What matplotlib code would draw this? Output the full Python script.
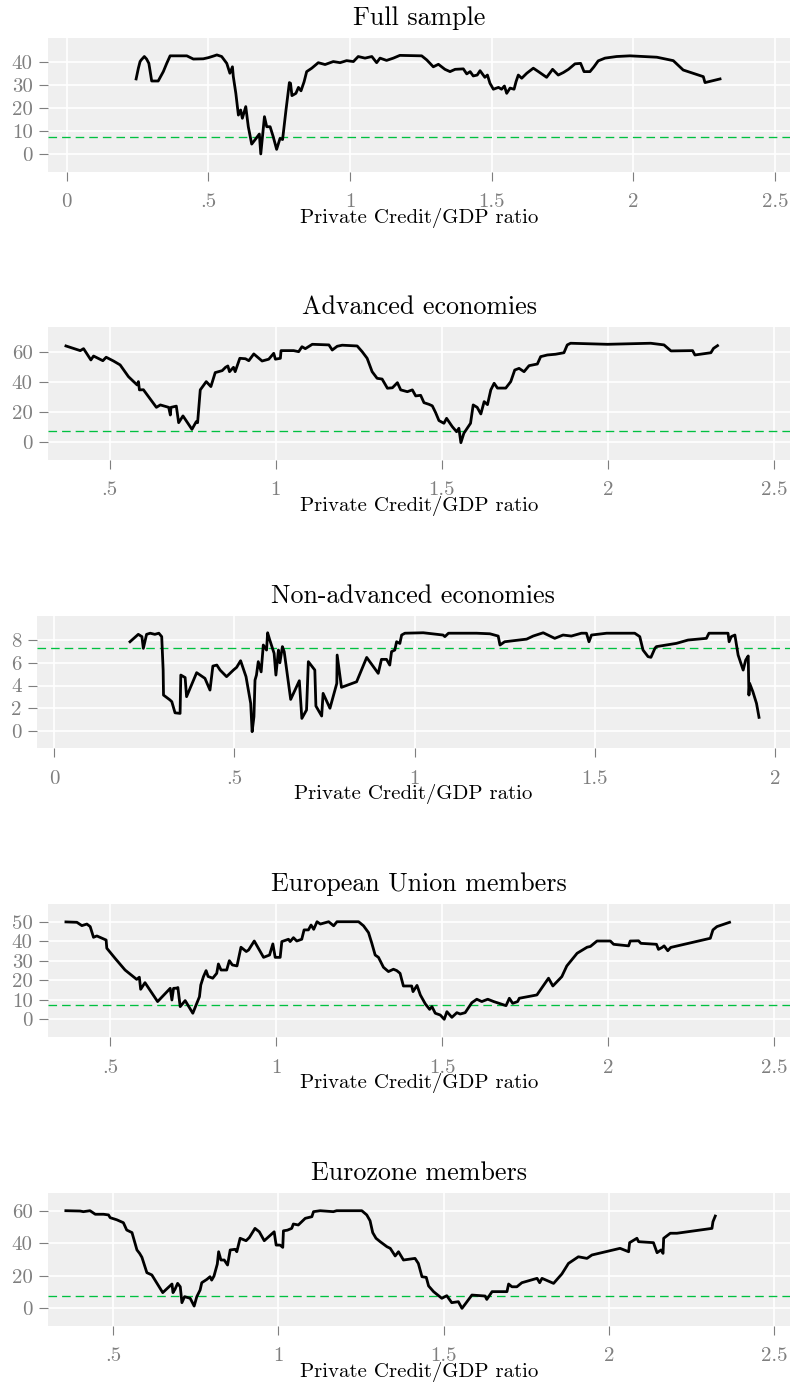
import matplotlib
matplotlib.use("Agg")
import matplotlib.pyplot as plt

plt.rcParams['font.family'] = ['cmr10', 'DejaVu Serif']
plt.rcParams['axes.unicode_minus'] = False

# threshold shown as dashed green line
threshold = 7.3

titles = ["Full sample", "Advanced economies", "Non-advanced economies",
          "European Union members", "Eurozone members"]

full_x = [0.245, 0.253, 0.259, 0.263, 0.274, 0.282, 0.290, 0.300, 0.323, 0.341, 0.353, 0.365,
          0.424, 0.447, 0.482, 0.500, 0.518, 0.530, 0.547, 0.565, 0.576, 0.585, 0.588, 0.597,
          0.606, 0.614, 0.620, 0.632, 0.641, 0.653, 0.666, 0.680, 0.685, 0.698, 0.706, 0.718,
          0.729, 0.741, 0.753, 0.762, 0.774, 0.786, 0.790, 0.795, 0.809, 0.818, 0.827, 0.838,
          0.847, 0.865, 0.888, 0.912, 0.941, 0.965, 0.988, 1.012, 1.029, 1.053, 1.077, 1.094,
          1.106, 1.129, 1.153, 1.176, 1.253, 1.271, 1.294, 1.312, 1.335, 1.353, 1.371, 1.400,
          1.412, 1.424, 1.435, 1.449, 1.459, 1.476, 1.485, 1.494, 1.506, 1.524, 1.535, 1.545,
          1.553, 1.565, 1.579, 1.586, 1.594, 1.606, 1.624, 1.647, 1.665, 1.694, 1.715, 1.735,
          1.753, 1.771, 1.794, 1.814, 1.826, 1.847, 1.861, 1.876, 1.900, 1.941, 1.988, 2.083,
          2.141, 2.176, 2.247, 2.253, 2.306]
full_y = [32.7, 37.4, 40.3, 41.0, 42.5, 41.4, 39.5, 31.8, 31.8, 35.9, 39.5, 42.8,
          42.8, 41.4, 41.5, 42.0, 42.7, 43.2, 42.5, 39.5, 35.2, 38.0, 33.8, 26.4,
          16.9, 19.1, 15.5, 20.6, 11.8, 4.2, 6.3, 8.6, -0.1, 16.2, 11.8, 11.8,
          7.4, 1.9, 6.7, 6.2, 19.1, 31.1, 30.8, 25.4, 26.4, 29.0, 27.5, 31.5,
          35.9, 37.4, 39.8, 39.0, 40.3, 39.8, 40.7, 40.3, 42.5, 41.8, 42.5, 39.8,
          41.8, 40.8, 41.8, 43.0, 42.8, 41.0, 38.0, 39.1, 36.9, 35.9, 36.9, 37.1,
          34.9, 35.9, 34.0, 34.4, 36.3, 33.4, 34.4, 30.8, 28.2, 29.0, 28.2, 29.6,
          26.4, 28.7, 28.2, 31.5, 34.4, 33.0, 35.2, 37.4, 35.9, 33.4, 36.9, 34.4,
          35.5, 36.9, 39.3, 39.5, 35.9, 35.9, 38.0, 40.6, 41.8, 42.5, 42.8, 42.2,
          40.7, 36.6, 33.7, 31.1, 32.7]

adv_x = [0.369, 0.412, 0.422, 0.444, 0.452, 0.480, 0.490, 0.512, 0.532, 0.557, 0.583, 0.587,
         0.590, 0.602, 0.641, 0.653, 0.678, 0.683, 0.685, 0.701, 0.708, 0.721, 0.748, 0.761,
         0.765, 0.773, 0.791, 0.805, 0.818, 0.839, 0.849, 0.856, 0.861, 0.873, 0.878, 0.892,
         0.909, 0.919, 0.934, 0.959, 0.979, 0.994, 0.999, 1.014, 1.016, 1.054, 1.069, 1.079,
         1.089, 1.110, 1.160, 1.170, 1.185, 1.200, 1.245, 1.260, 1.275, 1.290, 1.305, 1.320,
         1.336, 1.351, 1.366, 1.376, 1.396, 1.411, 1.421, 1.436, 1.446, 1.461, 1.471, 1.481,
         1.491, 1.506, 1.514, 1.531, 1.544, 1.551, 1.557, 1.566, 1.586, 1.594, 1.606, 1.617,
         1.627, 1.637, 1.647, 1.657, 1.667, 1.692, 1.707, 1.719, 1.732, 1.747, 1.762, 1.787,
         1.797, 1.817, 1.842, 1.867, 1.877, 1.887, 1.998, 2.128, 2.168, 2.189, 2.254, 2.261,
         2.309, 2.317, 2.329]
adv_y = [64.0, 60.9, 62.2, 54.7, 57.3, 54.2, 56.5, 54.0, 51.4, 43.6, 38.1, 40.3,
         34.8, 34.9, 23.2, 24.8, 23.2, 18.1, 23.2, 24.0, 13.0, 17.5, 8.6, 13.7,
         13.0, 34.8, 40.3, 37.0, 46.3, 47.6, 49.8, 50.7, 46.9, 49.8, 46.9, 55.8,
         55.5, 54.2, 58.7, 54.0, 55.2, 59.1, 55.2, 55.8, 60.9, 60.9, 60.2, 63.5,
         62.2, 65.1, 64.7, 61.3, 63.8, 64.5, 64.0, 60.2, 55.8, 46.9, 42.5, 42.0,
         35.9, 36.2, 39.6, 34.8, 33.6, 34.8, 30.8, 31.2, 26.3, 25.2, 24.2, 19.7,
         14.4, 12.6, 15.9, 10.4, 7.0, 9.3, -0.3, 6.0, 12.6, 24.8, 23.2, 18.8,
         27.0, 25.0, 34.8, 39.2, 36.0, 36.0, 40.3, 48.0, 49.1, 46.9, 50.9, 52.0,
         56.9, 58.0, 58.5, 59.5, 64.7, 65.8, 65.1, 65.8, 64.7, 60.7, 60.9, 58.0,
         59.5, 62.4, 64.2]

nonadv_x = [0.210, 0.233, 0.243, 0.247, 0.256, 0.266, 0.279, 0.290, 0.298, 0.302, 0.303, 0.321,
            0.326, 0.335, 0.349, 0.351, 0.363, 0.367, 0.395, 0.418, 0.432, 0.440, 0.451, 0.460,
            0.478, 0.497, 0.506, 0.517, 0.532, 0.545, 0.549, 0.554, 0.557, 0.561, 0.566, 0.574,
            0.580, 0.589, 0.592, 0.598, 0.610, 0.615, 0.622, 0.626, 0.633, 0.638, 0.656, 0.680,
            0.687, 0.700, 0.705, 0.723, 0.726, 0.742, 0.746, 0.765, 0.784, 0.785, 0.797, 0.839,
            0.867, 0.899, 0.908, 0.922, 0.931, 0.936, 0.945, 0.950, 0.959, 0.964, 0.973, 1.024,
            1.079, 1.084, 1.094, 1.172, 1.209, 1.232, 1.237, 1.250, 1.311, 1.329, 1.357, 1.389,
            1.412, 1.435, 1.463, 1.477, 1.484, 1.491, 1.533, 1.611, 1.625, 1.634, 1.648, 1.656,
            1.667, 1.671, 1.727, 1.759, 1.810, 1.817, 1.870, 1.873, 1.879, 1.889, 1.898, 1.912,
            1.919, 1.926, 1.928, 1.930, 1.939, 1.949, 1.956]
nonadv_y = [7.85, 8.5, 8.3, 7.27, 8.5, 8.6, 8.5, 8.6, 8.3, 5.36, 3.16, 2.73,
            2.58, 1.6, 1.55, 4.92, 4.7, 3.02, 5.13, 4.63, 3.6, 5.71, 5.8, 5.36,
            4.78, 5.36, 5.6, 6.18, 4.78, 2.43, -0.06, 1.26, 4.48, 4.92, 6.1, 5.2,
            7.56, 7.12, 8.64, 8.0, 6.83, 4.92, 7.12, 6.0, 7.42, 6.98, 2.78, 4.42,
            1.11, 1.85, 6.1, 5.36, 2.2, 1.32, 3.31, 2.0, 4.19, 6.68, 3.84, 4.33,
            6.47, 5.07, 6.3, 6.3, 5.8, 6.98, 7.12, 7.85, 7.7, 8.44, 8.6, 8.64,
            8.44, 8.3, 8.6, 8.6, 8.55, 8.35, 7.56, 7.85, 8.08, 8.35, 8.64, 8.15,
            8.44, 8.35, 8.6, 8.6, 7.85, 8.44, 8.6, 8.6, 8.3, 7.12, 6.54, 6.48,
            7.27, 7.42, 7.71, 8.0, 8.15, 8.6, 8.6, 7.85, 8.3, 8.44, 6.68, 5.36,
            6.24, 6.6, 3.16, 4.19, 3.45, 2.43, 1.2]

eu_x = [0.367, 0.400, 0.415, 0.430, 0.440, 0.450, 0.460, 0.488, 0.490, 0.515, 0.545, 0.580,
        0.588, 0.592, 0.605, 0.643, 0.681, 0.686, 0.691, 0.700, 0.704, 0.711, 0.726, 0.749,
        0.761, 0.769, 0.773, 0.781, 0.789, 0.795, 0.809, 0.821, 0.826, 0.834, 0.851, 0.859,
        0.868, 0.882, 0.894, 0.910, 0.917, 0.934, 0.962, 0.980, 0.990, 0.997, 1.012, 1.017,
        1.037, 1.042, 1.052, 1.062, 1.077, 1.084, 1.097, 1.105, 1.113, 1.123, 1.133, 1.158,
        1.173, 1.183, 1.248, 1.263, 1.278, 1.288, 1.298, 1.308, 1.323, 1.338, 1.353, 1.363,
        1.373, 1.383, 1.408, 1.412, 1.424, 1.434, 1.449, 1.462, 1.469, 1.479, 1.494, 1.506,
        1.514, 1.529, 1.544, 1.554, 1.569, 1.589, 1.604, 1.619, 1.637, 1.655, 1.692, 1.702,
        1.712, 1.727, 1.732, 1.785, 1.820, 1.833, 1.860, 1.875, 1.906, 1.936, 1.946, 1.966,
        2.006, 2.016, 2.061, 2.066, 2.091, 2.098, 2.145, 2.151, 2.162, 2.168, 2.179, 2.188,
        2.307, 2.315, 2.327, 2.365]
eu_y = [50.0, 49.8, 48.1, 48.9, 47.6, 42.1, 42.8, 40.7, 36.5, 31.3, 25.3, 20.5,
        21.6, 15.4, 18.8, 9.1, 15.9, 9.9, 15.9, 16.0, 16.3, 6.5, 9.6, 3.1,
        8.2, 11.6, 17.6, 21.9, 25.0, 22.0, 21.1, 23.6, 28.4, 25.3, 25.3, 30.1,
        27.9, 27.4, 37.0, 34.8, 35.6, 40.2, 31.8, 33.0, 38.7, 31.8, 31.8, 39.9,
        41.1, 39.9, 41.9, 40.2, 41.1, 45.9, 45.9, 48.4, 46.2, 50.1, 48.9, 50.1,
        48.0, 50.1, 50.1, 48.0, 44.5, 39.0, 33.0, 31.8, 26.7, 24.5, 25.7, 25.0,
        23.6, 17.1, 17.1, 14.2, 17.4, 12.5, 7.9, 5.1, 6.5, 3.1, 2.2, 0.0,
        3.9, 1.0, 3.4, 2.7, 3.4, 8.5, 10.3, 9.1, 10.3, 9.1, 7.0, 10.8,
        8.2, 9.1, 10.8, 12.5, 21.1, 17.1, 21.9, 27.4, 33.9, 37.0, 37.4, 40.2,
        40.2, 38.5, 37.7, 40.2, 40.3, 39.0, 38.5, 35.9, 36.9, 37.7, 35.2, 36.9,
        41.6, 45.9, 47.6, 49.8]

ez_x = [0.357, 0.400, 0.410, 0.430, 0.446, 0.471, 0.486, 0.491, 0.511, 0.531, 0.541, 0.557,
        0.572, 0.580, 0.587, 0.602, 0.617, 0.650, 0.678, 0.681, 0.687, 0.695, 0.703, 0.708,
        0.716, 0.733, 0.745, 0.753, 0.763, 0.768, 0.783, 0.793, 0.798, 0.805, 0.815, 0.819,
        0.826, 0.836, 0.846, 0.854, 0.869, 0.874, 0.884, 0.902, 0.912, 0.929, 0.942, 0.957,
        0.987, 0.993, 1.005, 1.013, 1.015, 1.027, 1.040, 1.045, 1.060, 1.081, 1.101, 1.106,
        1.126, 1.166, 1.176, 1.252, 1.267, 1.277, 1.285, 1.295, 1.307, 1.328, 1.338, 1.353,
        1.363, 1.378, 1.413, 1.423, 1.434, 1.447, 1.454, 1.469, 1.494, 1.509, 1.524, 1.544,
        1.555, 1.565, 1.585, 1.625, 1.630, 1.646, 1.691, 1.696, 1.706, 1.721, 1.736, 1.782,
        1.790, 1.797, 1.832, 1.857, 1.877, 1.907, 1.933, 1.948, 2.033, 2.059, 2.062, 2.084,
        2.089, 2.134, 2.145, 2.157, 2.163, 2.165, 2.185, 2.205, 2.311, 2.314, 2.321]
ez_y = [60.0, 59.8, 59.4, 60.0, 57.8, 57.8, 57.4, 55.7, 54.4, 52.6, 48.1, 46.5,
        35.8, 33.7, 31.3, 21.8, 20.4, 9.5, 14.8, 9.5, 11.5, 15.2, 13.1, 3.3,
        7.0, 6.0, 1.2, 7.0, 11.1, 15.6, 17.6, 19.3, 17.2, 19.7, 27.1, 34.7,
        29.6, 29.6, 26.5, 35.8, 36.2, 34.7, 43.0, 41.5, 43.5, 49.1, 47.0, 41.5,
        47.0, 38.8, 38.8, 37.4, 47.6, 48.0, 49.1, 51.8, 51.2, 55.3, 56.3, 59.4,
        60.0, 59.4, 60.0, 60.0, 57.4, 53.8, 46.5, 43.0, 41.0, 37.8, 36.8, 32.1,
        34.7, 29.6, 30.6, 27.5, 19.3, 18.9, 13.6, 10.1, 6.0, 7.6, 3.3, 3.9,
        -0.2, 2.5, 8.0, 7.4, 5.3, 10.1, 10.1, 14.8, 13.1, 13.1, 15.6, 18.3,
        15.6, 18.3, 15.2, 21.0, 27.5, 31.6, 30.6, 32.7, 36.8, 34.7, 40.3, 43.0,
        40.9, 40.3, 34.1, 35.8, 33.7, 43.0, 46.1, 46.1, 49.1, 53.2, 56.7]

xs = [full_x, adv_x, nonadv_x, eu_x, ez_x]
ys = [full_y, adv_y, nonadv_y, eu_y, ez_y]

xticks = [[0, 0.5, 1, 1.5, 2, 2.5], [0.5, 1, 1.5, 2, 2.5], [0, 0.5, 1, 1.5, 2],
          [0.5, 1, 1.5, 2, 2.5], [0.5, 1, 1.5, 2, 2.5]]
xticklabels = [['0', '.5', '1', '1.5', '2', '2.5'], ['.5', '1', '1.5', '2', '2.5'],
               ['0', '.5', '1', '1.5', '2'], ['.5', '1', '1.5', '2', '2.5'],
               ['.5', '1', '1.5', '2', '2.5']]
yticks = [[0, 10, 20, 30, 40], [0, 20, 40, 60], [0, 2, 4, 6, 8],
          [0, 10, 20, 30, 40, 50], [0, 20, 40, 60]]

# axis limits and panel boxes (pixels: left, top, right, bottom)
xlims = [(-0.066, 2.553), (0.315, 2.547), (-0.049, 2.042), (0.313, 2.547), (0.303, 2.547)]
ylims = [(-8.0, 50.6), (-11.8, 76.8), (-1.52, 10.14), (-9.25, 59.2), (-10.9, 71.1)]
boxes = [(48, 38, 790, 172), (48, 326.7, 790, 460), (36.7, 615.7, 790, 748.3),
         (48, 904, 790, 1037.3), (48, 1192.7, 790, 1325.7)]

W, H = 791, 1386
fig = plt.figure(figsize=(W / 100, H / 100), dpi=100)

for i in range(5):
    l, t, r, b = boxes[i]
    ax = fig.add_axes([l / W, 1 - b / H, (r - l) / W, (b - t) / H])
    ax.set_facecolor('#efefef')
    for s in ax.spines.values():
        s.set_visible(False)
    ax.grid(True, color='white', linewidth=1.2)
    ax.set_axisbelow(True)
    ax.axhline(threshold, color='#00c040', linewidth=0.95, linestyle=(0, (6.5, 3.8)))
    ax.plot(xs[i], ys[i], color='black', linewidth=2.0, solid_joinstyle='round')
    ax.set_xlim(*xlims[i])
    ax.set_ylim(*ylims[i])
    ax.set_xticks(xticks[i])
    ax.set_xticklabels(xticklabels[i])
    ax.set_yticks(yticks[i])
    ax.set_yticklabels([str(v) for v in yticks[i]])
    ax.tick_params(axis='both', colors='#7f7f7f', labelcolor='#7f7f7f',
                   length=6.5, width=0.8, labelsize=15)
    ax.tick_params(axis='x', pad=9)
    ax.tick_params(axis='y', pad=4.5)
    ax.set_title(titles[i], fontsize=18.7, pad=9.5)
    ax.set_xlabel('Private Credit/GDP ratio', fontsize=15, labelpad=-2.5)

fig.savefig('out.png', dpi=100)
